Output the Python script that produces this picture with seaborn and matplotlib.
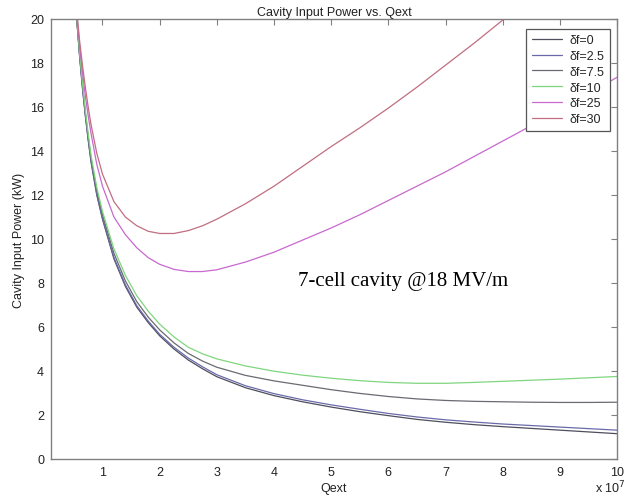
import pandas as pd
import seaborn as sns
import matplotlib
matplotlib.use('Agg')
import matplotlib.pyplot as plt

# Qext en unidades de 1e7
qext = [0.55, 0.6, 0.65, 0.7, 0.75, 0.8, 0.9, 1.0, 1.2, 1.4, 1.6, 1.8, 2.0, 2.25, 2.5, 2.75,
        3.0, 3.5, 4.0, 4.5, 5.0, 5.5, 6.0, 6.5, 7.0, 7.5, 8.0, 8.5, 9.0, 9.5, 10.0]

# potencia de entrada (kW)
p_df0 = [20.0, 18.3, 16.85, 15.6, 14.5, 13.5, 12.0, 10.9, 9.1, 7.85, 6.9, 6.2, 5.6, 5.0, 4.5, 4.1,
         3.74, 3.24, 2.88, 2.6, 2.36, 2.15, 1.97, 1.8, 1.67, 1.56, 1.47, 1.39, 1.31, 1.23, 1.15]
p_df25 = [20.0, 18.35, 16.9, 15.65, 14.55, 13.55, 12.05, 10.95, 9.16, 7.92, 6.97, 6.27, 5.67, 5.08, 4.59, 4.19,
          3.83, 3.33, 2.97, 2.69, 2.46, 2.26, 2.07, 1.91, 1.78, 1.68, 1.59, 1.52, 1.45, 1.38, 1.31]
p_df75 = [20.0, 18.4, 17.0, 15.75, 14.65, 13.65, 12.2, 11.1, 9.35, 8.1, 7.15, 6.45, 5.87, 5.28, 4.8, 4.45,
          4.17, 3.8, 3.55, 3.35, 3.15, 2.98, 2.84, 2.73, 2.66, 2.62, 2.6, 2.58, 2.57, 2.57, 2.58]
p_df10 = [20.1, 18.5, 17.1, 15.85, 14.8, 13.8, 12.35, 11.25, 9.55, 8.35, 7.42, 6.72, 6.13, 5.55, 5.08, 4.78,
          4.55, 4.23, 3.99, 3.81, 3.67, 3.56, 3.48, 3.44, 3.44, 3.48, 3.53, 3.58, 3.63, 3.69, 3.75]
p_df250 = [20.2, 18.8, 17.6, 16.5, 15.6, 14.8, 13.4, 12.4, 11.0, 10.2, 9.6, 9.15, 8.85, 8.62, 8.52, 8.52,
           8.6, 8.95, 9.4, 9.95, 10.5, 11.1, 11.75, 12.4, 13.05, 13.75, 14.45, 15.15, 15.9, 16.6, 17.35]
p_df300 = [20.4, 19.0, 17.9, 16.9, 16.0, 15.2, 13.9, 12.95, 11.7, 11.0, 10.6, 10.35, 10.25, 10.25, 10.38, 10.6,
           10.9, 11.6, 12.4, 13.3, 14.2, 15.05, 15.95, 16.9, 17.9, 18.9, 19.95, 21.0, 22.1, 23.2, 24.3]

etiquetas = ['δf=0', 'δf=2.5', 'δf=7.5', 'δf=10', 'δf=25', 'δf=30']
series = [p_df0, p_df25, p_df75, p_df10, p_df250, p_df300]
colores = ['#4e4e5e', '#6a6aaa', '#6a6a72', '#7fd67f', '#c868d0', '#c06e80']

# tabla larga para seaborn
filas = []
for lab, vals in zip(etiquetas, series):
    for q, p in zip(qext, vals):
        filas.append({'Qext': q, 'P': p, 'curva': lab})
df = pd.DataFrame(filas)

sns.set_style('white')
plt.rcParams['font.family'] = ['Liberation Sans', 'DejaVu Sans']

fig = plt.figure(figsize=(6.33, 5.02), dpi=100)
ax = fig.add_axes([0.0806, 0.0837, 0.8942, 0.8765])

sns.lineplot(data=df, x='Qext', y='P', hue='curva', hue_order=etiquetas,
             palette=dict(zip(etiquetas, colores)), estimator=None, sort=False,
             linewidth=0.9, ax=ax)

ax.set_xlim(0.1, 10)
ax.set_ylim(0, 20)
ax.set_xticks(range(1, 11))
ax.set_yticks(range(0, 21, 2))
gris = '#808080'
for s in ax.spines.values():
    s.set_color(gris)
    s.set_linewidth(1.0)
ax.tick_params(direction='in', length=4, width=0.8, color=gris, top=True, right=True,
               labelsize=9, labelcolor='#222222', pad=5)

ax.set_title('Cavity Input Power vs. Qext', fontsize=9, color='#222222', pad=3)
ax.set_xlabel('Qext', fontsize=9, color='#222222', labelpad=3)
ax.set_ylabel('Cavity Input Power (kW)', fontsize=9, color='#222222', labelpad=4)
fig.text(0.94, 0.018, r'x 10$^7$', fontsize=9, color='#222222')

ax.text(4.42, 8.1, '7-cell cavity @18 MV/m', fontsize=15, va='center',
        family=['Liberation Serif', 'DejaVu Serif'], color='black')

leg = ax.legend(loc='upper right', bbox_to_anchor=(0.987, 0.978), fontsize=9,
                frameon=True, fancybox=False, framealpha=1, borderaxespad=0,
                handlelength=2.4, labelspacing=0.3, borderpad=0.45, handletextpad=0.6)
leg.get_frame().set_edgecolor('#555555')
leg.get_frame().set_linewidth(0.9)

fig.savefig('out.png', dpi=100)
